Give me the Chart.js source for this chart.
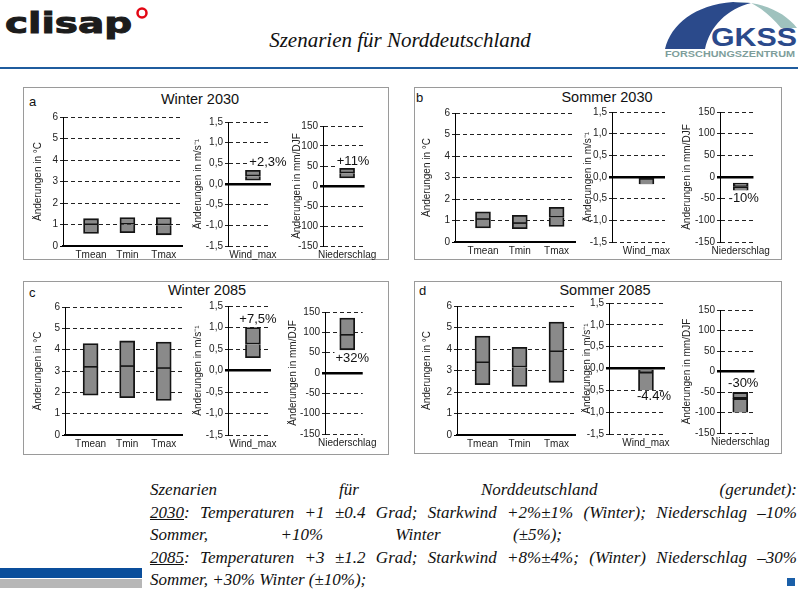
<!DOCTYPE html>
<html>
<head>
<meta charset="utf-8">
<script src="https://cdn.jsdelivr.net/npm/chart.js@4"></script>
<style>
  html, body { margin: 0; padding: 0; background: #fff; }
  body { width: 800px; height: 600px; position: relative; overflow: hidden; font-family: "Liberation Sans", Arial, sans-serif; color: #111; }
  .abs { position: absolute; }
  .panel { position: absolute; border: 1px solid #9a9a9a; box-sizing: border-box; }
  .letter { position: absolute; font-size: 13px; }
  .ptitle { position: absolute; width: 200px; text-align: center; font-size: 14.5px; }
  #notes { position: absolute; left: 150px; top: 479px; width: 647px; font-family: "Liberation Serif", "DejaVu Serif", serif; font-style: italic; font-size: 17px; line-height: 22.5px; color: #111; }
  #notes .j { text-align: justify; text-align-last: justify; }
</style>
</head>
<body>

<!-- Kopf -->
<svg class="abs" style="left:0;top:0" width="170" height="50">
  <text x="5" y="33" font-family="DejaVu Sans" font-weight="bold" font-size="28" fill="#1c1c1c" stroke="#1c1c1c" stroke-width="1"
        textLength="127" lengthAdjust="spacingAndGlyphs">clisap</text>
  <circle cx="142" cy="13" r="4.5" fill="none" stroke="#e30613" stroke-width="2.5"/>
</svg>
<div class="abs" style="left:200px;top:28px;width:400px;text-align:center;font-family:'Liberation Serif',serif;font-style:italic;font-size:21px;">Szenarien für Norddeutschland</div>
<svg class="abs" style="left:655px;top:0" width="145" height="62">
  <path d="M10 49 C 16 24, 40 5, 78 2 L 96 3 C 72 9, 55 26, 50 49 Z" fill="#2b4a8b"/>
  <path d="M78 2 C 106 1, 130 12, 142 28 L 126 28 C 116 16, 106 8, 96 3 Z" fill="#9fc2be"/>
  <text x="56" y="46" font-family="Liberation Sans" font-weight="bold" font-size="25" fill="#2b4a8b"
        textLength="86" lengthAdjust="spacingAndGlyphs">GKSS</text>
  <text x="10" y="57" font-family="Liberation Sans" font-weight="bold" font-size="8.5" fill="#7e9e9b"
        textLength="130" lengthAdjust="spacingAndGlyphs">FORSCHUNGSZENTRUM</text>
</svg>
<div class="abs" style="left:0;top:67px;width:798px;height:1.5px;background:#1f5c9e"></div>

<!-- Rahmen der vier Teilbilder -->
<div class="panel" style="left:23px;top:87px;width:366px;height:173px"></div>
<div class="panel" style="left:414px;top:87px;width:368px;height:173px"></div>
<div class="panel" style="left:23px;top:281px;width:366px;height:174px"></div>
<div class="panel" style="left:414px;top:281px;width:368px;height:173px"></div>

<div class="letter" style="left:29px;top:94px">a</div>
<div class="letter" style="left:416px;top:90px">b</div>
<div class="letter" style="left:29px;top:285px">c</div>
<div class="letter" style="left:419px;top:283px">d</div>

<div class="ptitle" id="t0" style="left:100px;top:91px"></div>
<div class="ptitle" id="t1" style="left:507px;top:89px"></div>
<div class="ptitle" id="t2" style="left:107px;top:282px"></div>
<div class="ptitle" id="t3" style="left:505px;top:282px"></div>

<!-- Text unten -->
<div id="notes">
  <div class="j">Szenarien für Norddeutschland (gerundet):</div>
  <div class="j"><u>2030</u>: Temperaturen +1 ±0.4 Grad; Starkwind +2%±1% (Winter); Niederschlag –10%</div>
  <div class="j" style="width:412px">Sommer, +10% Winter (±5%);</div>
  <div class="j"><u>2085</u>: Temperaturen +3 ±1.2 Grad; Starkwind +8%±4%; (Winter) Niederschlag –30%</div>
  <div>Sommer, +30% Winter (±10%);</div>
</div>
<div class="abs" style="left:0;top:568px;width:142px;height:10px;background:#0a4e9b"></div>
<div class="abs" style="left:0;top:579px;width:142px;height:9px;background:#b7b7b7"></div>
<div class="abs" style="left:787px;top:578px;width:8px;height:8px;background:#1a5fa8"></div>

<script>
// Daten
const panelTitles = ['Winter 2030', 'Sommer 2030', 'Winter 2085', 'Sommer 2085'];
const tempCats = ['Tmean', 'Tmin', 'Tmax'];
const windCat = ['Wind_max'];
const precCat = ['Niederschlag'];

// je Teilbild: Tmean, Tmin, Tmax
const tempLow  = [[0.58, 0.62, 0.52], [0.65, 0.62, 0.72], [1.87, 1.75, 1.62], [2.34, 2.26, 2.45]];
const tempMed  = [[0.98, 1.0, 0.97],  [1.04, 0.85, 1.14], [3.16, 3.2, 3.11],  [3.35, 3.15, 3.86]];
const tempHigh = [[1.27, 1.32, 1.32], [1.40, 1.24, 1.61], [4.29, 4.41, 4.36], [4.6, 4.08, 5.25]];

const windLow  = [0.09, -0.17, 0.3, -0.49];
const windMed  = [0.19, -0.03, 0.61, -0.08];
const windHigh = [0.33, 0, 1.0, 0];

const precLow  = [20, -31, 57, -100];
const precMed  = [32, -22, 92, -66];
const precHigh = [44, -14, 135, -51];

const windNotes = ['+2,3%', '', '+7,5%', '-4.4%'];
const windNoteAt = [0.53, 0, 1.19, -0.65];
const precNotes = ['+11%', '-10%', '+32%', '-30%'];
const precNoteAt = [62, -50, 37, -28];

// Lage der Achsen auf der Seite (Pixel)
const layout = [
  [{ax: 63, right: 182, top: 116.7, bottom: 245.7, tOff: 25, f: 0.77},
   {ax: 228.3, right: 271.7, top: 121.7, bottom: 245.7, tOff: 30, f: 0.58, dx: 15},
   {ax: 323.3, right: 370, top: 126, bottom: 245.7, tOff: 26, f: 0.58, dx: 6}],
  [{ax: 455, right: 575, top: 113.3, bottom: 242.3, tOff: 28, f: 0.76},
   {ax: 611.7, right: 665, top: 111.7, bottom: 241.7, tOff: 24, f: 0.65, dx: 0},
   {ax: 720, right: 763.3, top: 111.7, bottom: 241.7, tOff: 33, f: 0.62, dx: 3}],
  [{ax: 65, right: 182, top: 307.3, bottom: 435.3, tOff: 27, f: 0.70},
   {ax: 228.3, right: 271.7, top: 306.3, bottom: 435, tOff: 30, f: 0.58, dx: 5},
   {ax: 325, right: 370, top: 312, bottom: 434, tOff: 32, f: 0.59, dx: 5}],
  [{ax: 457, right: 575, top: 306.3, bottom: 434.7, tOff: 30, f: 0.69},
   {ax: 609.3, right: 665, top: 303, bottom: 434, tOff: 22, f: 0.66, dx: 8},
   {ax: 720, right: 763.3, top: 309.7, bottom: 433, tOff: 33, f: 0.59, dx: 3}]
];

Chart.defaults.font.family = "'Liberation Sans', Arial, sans-serif";
Chart.defaults.font.size = 10;
Chart.defaults.color = '#222';

function isZero(c) {
  return c.tick && Math.abs(c.tick.value) < 1e-9;
}

function notePlugin(text, value, dx) {
  // Prozentangabe neben dem Balken
  return {
    id: 'note',
    afterDatasetsDraw(chart) {
      if (!text) return;
      const ctx = chart.ctx;
      const x = chart.scales.x.getPixelForValue(1) + dx;
      const y = chart.scales.y.getPixelForValue(value);
      ctx.save();
      ctx.font = "13px 'Liberation Sans', Arial, sans-serif";
      const w = ctx.measureText(text).width;
      ctx.fillStyle = '#fff';
      ctx.fillRect(x - w / 2 - 1, y - 6, w + 2, 12);
      ctx.fillStyle = '#111';
      ctx.textAlign = 'center';
      ctx.textBaseline = 'middle';
      ctx.fillText(text, x, y);
      ctx.restore();
    }
  };
}

function makeChart(p, k) {
  const L = layout[p][k];
  let cats, low, med, high, yMin, yMax, step, fmt, title, xMax, note = '', noteAt = 0;
  if (k === 0) {
    cats = tempCats; low = tempLow[p]; med = tempMed[p]; high = tempHigh[p];
    yMin = 0; yMax = 6; step = 1; fmt = v => v; title = 'Änderungen in °C'; xMax = 3.5;
  } else if (k === 1) {
    cats = windCat; low = [windLow[p]]; med = [windMed[p]]; high = [windHigh[p]];
    yMin = -1.5; yMax = 1.5; step = 0.5; fmt = v => v.toFixed(1).replace('.', ',');
    title = 'Änderungen in m/s⁻¹'; xMax = 2 - L.f;
    note = windNotes[p]; noteAt = windNoteAt[p];
  } else {
    cats = precCat; low = [precLow[p]]; med = [precMed[p]]; high = [precHigh[p]];
    yMin = -150; yMax = 150; step = 50; fmt = v => Math.round(v);
    title = 'Änderungen in mm/DJF'; xMax = 2 - L.f;
    note = precNotes[p]; noteAt = precNoteAt[p];
  }
  const yW = L.tOff + 6;
  const padTop = 8, padRight = 16, padBottom = 2, xH = 18;
  const left = Math.round(L.ax - yW);
  const top = Math.round(L.top - padTop);
  const w = Math.round(yW + (L.right - L.ax) + padRight);
  const h = Math.round(L.bottom - top + xH + padBottom);

  const div = document.createElement('div');
  div.style.cssText = `position:absolute;left:${left}px;top:${top}px;width:${w}px;height:${h}px`;
  const cv = document.createElement('canvas');
  div.appendChild(cv);
  document.body.appendChild(div);

  const bar = {
    backgroundColor: '#8a8a8a', borderColor: '#141414', borderWidth: 1.8,
    grouped: false, barThickness: 15
  };

  return new Chart(cv, {
    type: 'bar',
    data: {
      datasets: [
        Object.assign({}, bar, {borderSkipped: 'top', data: cats.map((c, i) => ({x: i + 1, y: [low[i], med[i]]}))}),
        Object.assign({}, bar, {borderSkipped: false, data: cats.map((c, i) => ({x: i + 1, y: [med[i], high[i]]}))})
      ]
    },
    options: {
      responsive: true,
      maintainAspectRatio: false,
      animation: false,
      layout: { padding: { top: padTop, right: padRight, left: 0, bottom: padBottom } },
      plugins: { legend: { display: false }, tooltip: { enabled: false } },
      scales: {
        x: {
          type: 'linear', offset: false, min: 1 - L.f, max: xMax,
          afterBuildTicks: s => { s.ticks = cats.map((c, i) => ({value: i + 1})); },
          ticks: { callback: v => cats[Math.round(v) - 1], padding: 3, autoSkip: false, maxRotation: 0 },
          grid: { display: false, drawTicks: false, tickLength: 0 },
          border: { display: k === 0, color: '#000', width: 2 },
          afterFit: s => { s.height = xH; }
        },
        y: {
          min: yMin, max: yMax,
          ticks: { stepSize: step, callback: fmt, padding: 2 },
          grid: {
            color: c => isZero(c) ? '#000' : '#222',
            lineWidth: c => (isZero(c) && k > 0) ? 2.5 : 1,
            tickLength: 3
          },
          border: { display: true, color: '#000', width: 1, dash: c => (c.tick && !isZero(c)) ? [4, 3] : [] },
          title: { display: true, text: title, padding: 0, font: { size: 10 } },
          afterFit: s => { s.width = yW; }
        }
      }
    },
    plugins: [notePlugin(note, noteAt, L.dx || 0)]
  });
}

for (let p = 0; p < 4; p++) {
  document.getElementById('t' + p).textContent = panelTitles[p];
  for (let k = 0; k < 3; k++) makeChart(p, k);
}
</script>
</body>
</html>
